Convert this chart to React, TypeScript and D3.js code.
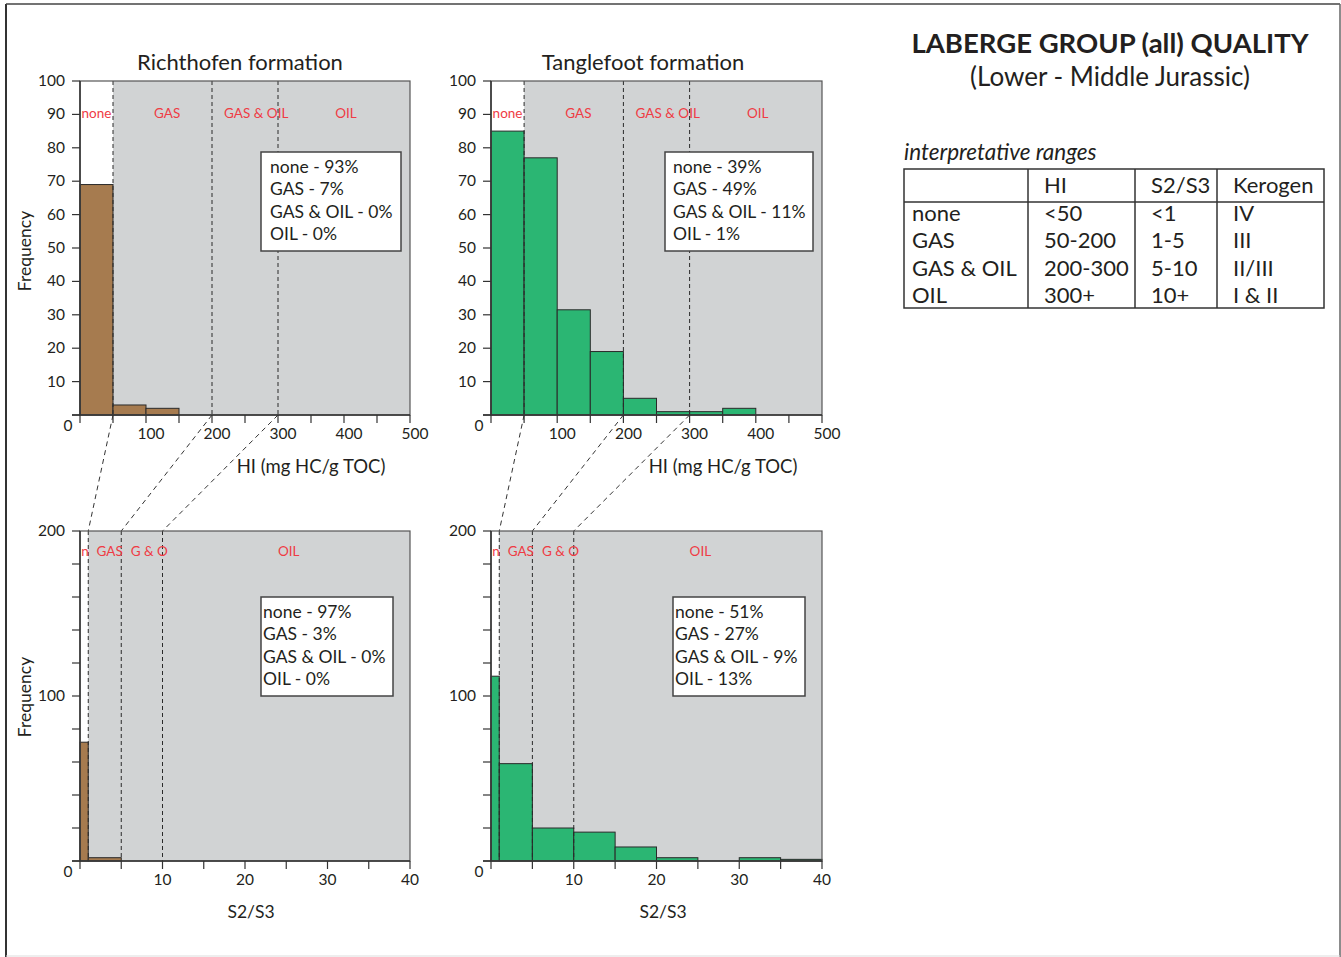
import React from "react";
import * as d3 from "d3";

// HI histograms, bins of 50 mg HC/g TOC from 0 to 500
const hiEdges = [0, 50, 100, 150, 200, 250, 300, 350, 400, 450, 500];
const richthofenHI = [69, 3, 2, 0, 0, 0, 0, 0, 0, 0];
const tanglefootHI = [85, 77, 31.5, 19, 5, 1, 1, 2, 0, 0];

// S2/S3 histograms
const s2s3Edges = [0, 1, 5, 10, 15, 20, 25, 30, 35, 40];
const richthofenS2S3 = [72, 2, 0, 0, 0, 0, 0, 0, 0];
const tanglefootS2S3 = [112, 59, 20, 17.5, 8.5, 2, 0, 2, 1];

const hiThresholds = [50, 200, 300];
const s2s3Thresholds = [1, 5, 10];

const hiZones = ["none", "GAS", "GAS & OIL", "OIL"];
const hiZoneAt = [25, 132, 267, 403];
const s2s3Zones = ["n", "GAS", "G & O", "OIL"];
const s2s3ZoneAt = [0.6, 3.6, 8.4, 25.3];

const hiYTicks = d3.range(0, 101, 10);
const hiXTicks = d3.range(0, 501, 50);
const hiXLabels = [100, 200, 300, 400, 500];
const s2s3YTicks = d3.range(0, 201, 20);
const s2s3YLabels = [100, 200];
const s2s3XTicks = d3.range(0, 41, 5);
const s2s3XLabels = [10, 20, 30, 40];

const richthofenHIStats = ["none - 93%", "GAS - 7%", "GAS & OIL - 0%", "OIL - 0%"];
const tanglefootHIStats = ["none - 39%", "GAS - 49%", "GAS & OIL - 11%", "OIL - 1%"];
const richthofenS2S3Stats = ["none - 97%", "GAS - 3%", "GAS & OIL - 0%", "OIL - 0%"];
const tanglefootS2S3Stats = ["none - 51%", "GAS - 27%", "GAS & OIL - 9%", "OIL - 13%"];

const tableHeader = ["", "HI", "S2/S3", "Kerogen"];
const tableRows = [
  ["none", "<50", "<1", "IV"],
  ["GAS", "50-200", "1-5", "III"],
  ["GAS & OIL", "200-300", "5-10", "II/III"],
  ["OIL", "300+", "10+", "I & II"],
];

const FONT = "Lato, 'Noto Sans', sans-serif";
const INK = "#231f20";
const RED = "#ef3b44";
const GRAY = "#d1d3d4";
const BROWN = "#a67b4f";
const GREEN = "#2bb673";

interface PanelProps {
  left: number;
  right: number;
  top: number;
  bottom: number;
  edges: number[];
  counts: number[];
  yMax: number;
  color: string;
  thresholds: number[];
  zones: string[];
  zoneAt: number[];
  zoneDy: number;
  yTicks: number[];
  yLabels: number[];
  xTicks: number[];
  xLabels: number[];
  xLabelShift: number;
  stats: string[];
  box: { x: number; y: number; w: number; pad: number };
}

function Panel(p: PanelProps) {
  const x = d3.scaleLinear().domain([p.edges[0], p.edges[p.edges.length - 1]]).range([p.left, p.right]);
  const y = d3.scaleLinear().domain([0, p.yMax]).range([p.bottom, p.top]);
  const firstCut = x(p.thresholds[0]);

  return (
    <g fontFamily={FONT}>
      <rect x={p.left} y={p.top} width={firstCut - p.left} height={p.bottom - p.top} fill="#fff" />
      <rect x={firstCut} y={p.top} width={p.right - firstCut} height={p.bottom - p.top} fill={GRAY} />

      {p.counts.map((c, i) =>
        c > 0 ? (
          <rect
            key={i}
            x={x(p.edges[i])}
            y={y(c)}
            width={x(p.edges[i + 1]) - x(p.edges[i])}
            height={p.bottom - y(c)}
            fill={p.color}
            stroke="#2a2a2a"
            strokeWidth={1}
          />
        ) : null
      )}

      {p.thresholds.map((t) => (
        <line key={t} x1={x(t)} x2={x(t)} y1={p.top} y2={p.bottom} stroke="#2a2a2a" strokeDasharray="4,3" strokeWidth={1} />
      ))}

      {p.zones.map((z, i) => (
        <text key={z} x={x(p.zoneAt[i])} y={p.top + p.zoneDy} fill={RED} fontSize={13.5} textAnchor="middle">
          {z}
        </text>
      ))}

      <rect x={p.left} y={p.top} width={p.right - p.left} height={p.bottom - p.top} fill="none" stroke="#555" strokeWidth={1.2} />
      <line x1={p.left} x2={p.left} y1={p.top} y2={p.bottom} stroke="#333" strokeWidth={1.5} />
      <line x1={p.left - 8} x2={p.right} y1={p.bottom} y2={p.bottom} stroke="#333" strokeWidth={1.5} />

      {p.yTicks.map((t) => (
        <line key={t} x1={p.left - 8} x2={p.left} y1={y(t)} y2={y(t)} stroke="#333" strokeWidth={1.2} />
      ))}
      {p.yLabels.map((t) => (
        <text key={t} x={p.left - 15} y={y(t) + 5} fontSize={15.5} fill={INK} textAnchor="end">
          {t}
        </text>
      ))}
      {p.xTicks.map((t) => (
        <line key={t} x1={x(t)} x2={x(t)} y1={p.bottom} y2={p.bottom + 8} stroke="#333" strokeWidth={1.2} />
      ))}
      {p.xLabels.map((t) => (
        <text key={t} x={x(t) + p.xLabelShift} y={p.bottom + 24} fontSize={15.5} fill={INK} textAnchor="middle">
          {t}
        </text>
      ))}
      <text x={p.left - 12} y={p.bottom + 16} fontSize={15.5} fill={INK} textAnchor="middle">
        0
      </text>

      <rect x={p.box.x} y={p.box.y} width={p.box.w} height={99} fill="#fff" stroke="#444" strokeWidth={1.5} />
      {p.stats.map((s, i) => (
        <text key={s} x={p.box.x + p.box.pad} y={p.box.y + 21 + i * 22.3} fontSize={17.5} fill={INK}>
          {s}
        </text>
      ))}
    </g>
  );
}

function Connectors({ left, right }: { left: number; right: number }) {
  const top = d3.scaleLinear().domain([0, 500]).range([left, right]);
  const bottom = d3.scaleLinear().domain([0, 40]).range([left, right]);
  return (
    <g>
      {hiThresholds.map((t, i) => (
        <line
          key={t}
          x1={top(t)}
          y1={415}
          x2={bottom(s2s3Thresholds[i])}
          y2={531}
          stroke="#333"
          strokeDasharray="5,4"
          strokeWidth={1}
        />
      ))}
    </g>
  );
}

function RangesTable() {
  const colX = [904, 1028, 1135, 1217, 1324];
  const rowY = [169, 202, 308];
  return (
    <g fontFamily={FONT} fill={INK}>
      <text x={904} y={160} fontSize={22.5} fontStyle="italic">
        interpretative ranges
      </text>
      <rect x={colX[0]} y={rowY[0]} width={colX[4] - colX[0]} height={rowY[2] - rowY[0]} fill="none" stroke="#333" strokeWidth={1.5} />
      <line x1={colX[0]} x2={colX[4]} y1={rowY[1]} y2={rowY[1]} stroke="#333" strokeWidth={1.5} />
      {colX.slice(1, 4).map((cx) => (
        <line key={cx} x1={cx} x2={cx} y1={rowY[0]} y2={rowY[2]} stroke="#333" strokeWidth={1.5} />
      ))}
      {tableHeader.map((h, i) => (
        <text key={i} x={colX[i] + (i === 0 ? 8 : 16)} y={193} fontSize={22}>
          {h}
        </text>
      ))}
      {tableRows.map((row, r) =>
        row.map((cell, c) => (
          <text key={`${r}-${c}`} x={colX[c] + (c === 0 ? 8 : 16)} y={221 + r * 27.3} fontSize={22}>
            {cell}
          </text>
        ))
      )}
    </g>
  );
}

export default function App() {
  const W = 1341;
  const H = 957;
  return (
    <svg width={W} height={H} style={{ position: "absolute", left: 0, top: 0, background: "#fff" }}>
      <rect x={0} y={0} width={W} height={H} fill="#fff" />
      <line x1={6} x2={6} y1={4} y2={H} stroke="#333" strokeWidth={2} />
      <line x1={6} x2={1340} y1={4} y2={4} stroke="#444" strokeWidth={1.5} />
      <line x1={1340} x2={1340} y1={4} y2={H} stroke="#666" strokeWidth={1.5} />
      <line x1={6} x2={1340} y1={956} y2={956} stroke="#ddd" strokeWidth={1} />

      <g fontFamily={FONT} fill={INK}>
        <text x={240} y={70} fontSize={22} textAnchor="middle">Richthofen formation</text>
        <text x={643} y={70} fontSize={22} textAnchor="middle">Tanglefoot formation</text>
        <text transform="translate(31,251) rotate(-90)" fontSize={17.5} textAnchor="middle">Frequency</text>
        <text transform="translate(31,697) rotate(-90)" fontSize={17.5} textAnchor="middle">Frequency</text>
        <text x={311} y={473} fontSize={18.5} textAnchor="middle">HI (mg HC/g TOC)</text>
        <text x={723} y={473} fontSize={18.5} textAnchor="middle">HI (mg HC/g TOC)</text>
        <text x={251} y={918} fontSize={17.5} textAnchor="middle">S2/S3</text>
        <text x={663} y={918} fontSize={17.5} textAnchor="middle">S2/S3</text>
        <text x={1110} y={53} fontSize={27.5} fontWeight="bold" textAnchor="middle">LABERGE GROUP (all) QUALITY</text>
        <text x={1110} y={86} fontSize={26} textAnchor="middle">(Lower - Middle Jurassic)</text>
      </g>

      <Connectors left={80} right={410} />
      <Connectors left={491} right={822} />

      <Panel
        left={80} right={410} top={81} bottom={415}
        edges={hiEdges} counts={richthofenHI} yMax={100} color={BROWN}
        thresholds={hiThresholds} zones={hiZones} zoneAt={hiZoneAt} zoneDy={37}
        yTicks={hiYTicks} yLabels={hiYTicks.slice(1)} xTicks={hiXTicks} xLabels={hiXLabels} xLabelShift={5}
        stats={richthofenHIStats} box={{ x: 261, y: 152, w: 140, pad: 9 }}
      />
      <Panel
        left={491} right={822} top={81} bottom={415}
        edges={hiEdges} counts={tanglefootHI} yMax={100} color={GREEN}
        thresholds={hiThresholds} zones={hiZones} zoneAt={hiZoneAt} zoneDy={37}
        yTicks={hiYTicks} yLabels={hiYTicks.slice(1)} xTicks={hiXTicks} xLabels={hiXLabels} xLabelShift={5}
        stats={tanglefootHIStats} box={{ x: 665, y: 152, w: 148, pad: 8 }}
      />
      <Panel
        left={80} right={410} top={531} bottom={861}
        edges={s2s3Edges} counts={richthofenS2S3} yMax={200} color={BROWN}
        thresholds={s2s3Thresholds} zones={s2s3Zones} zoneAt={s2s3ZoneAt} zoneDy={25}
        yTicks={s2s3YTicks} yLabels={s2s3YLabels} xTicks={s2s3XTicks} xLabels={s2s3XLabels} xLabelShift={0}
        stats={richthofenS2S3Stats} box={{ x: 261, y: 597, w: 132, pad: 2 }}
      />
      <Panel
        left={491} right={822} top={531} bottom={861}
        edges={s2s3Edges} counts={tanglefootS2S3} yMax={200} color={GREEN}
        thresholds={s2s3Thresholds} zones={s2s3Zones} zoneAt={s2s3ZoneAt} zoneDy={25}
        yTicks={s2s3YTicks} yLabels={s2s3YLabels} xTicks={s2s3XTicks} xLabels={s2s3XLabels} xLabelShift={0}
        stats={tanglefootS2S3Stats} box={{ x: 673, y: 597, w: 132, pad: 2 }}
      />

      <RangesTable />
    </svg>
  );
}
